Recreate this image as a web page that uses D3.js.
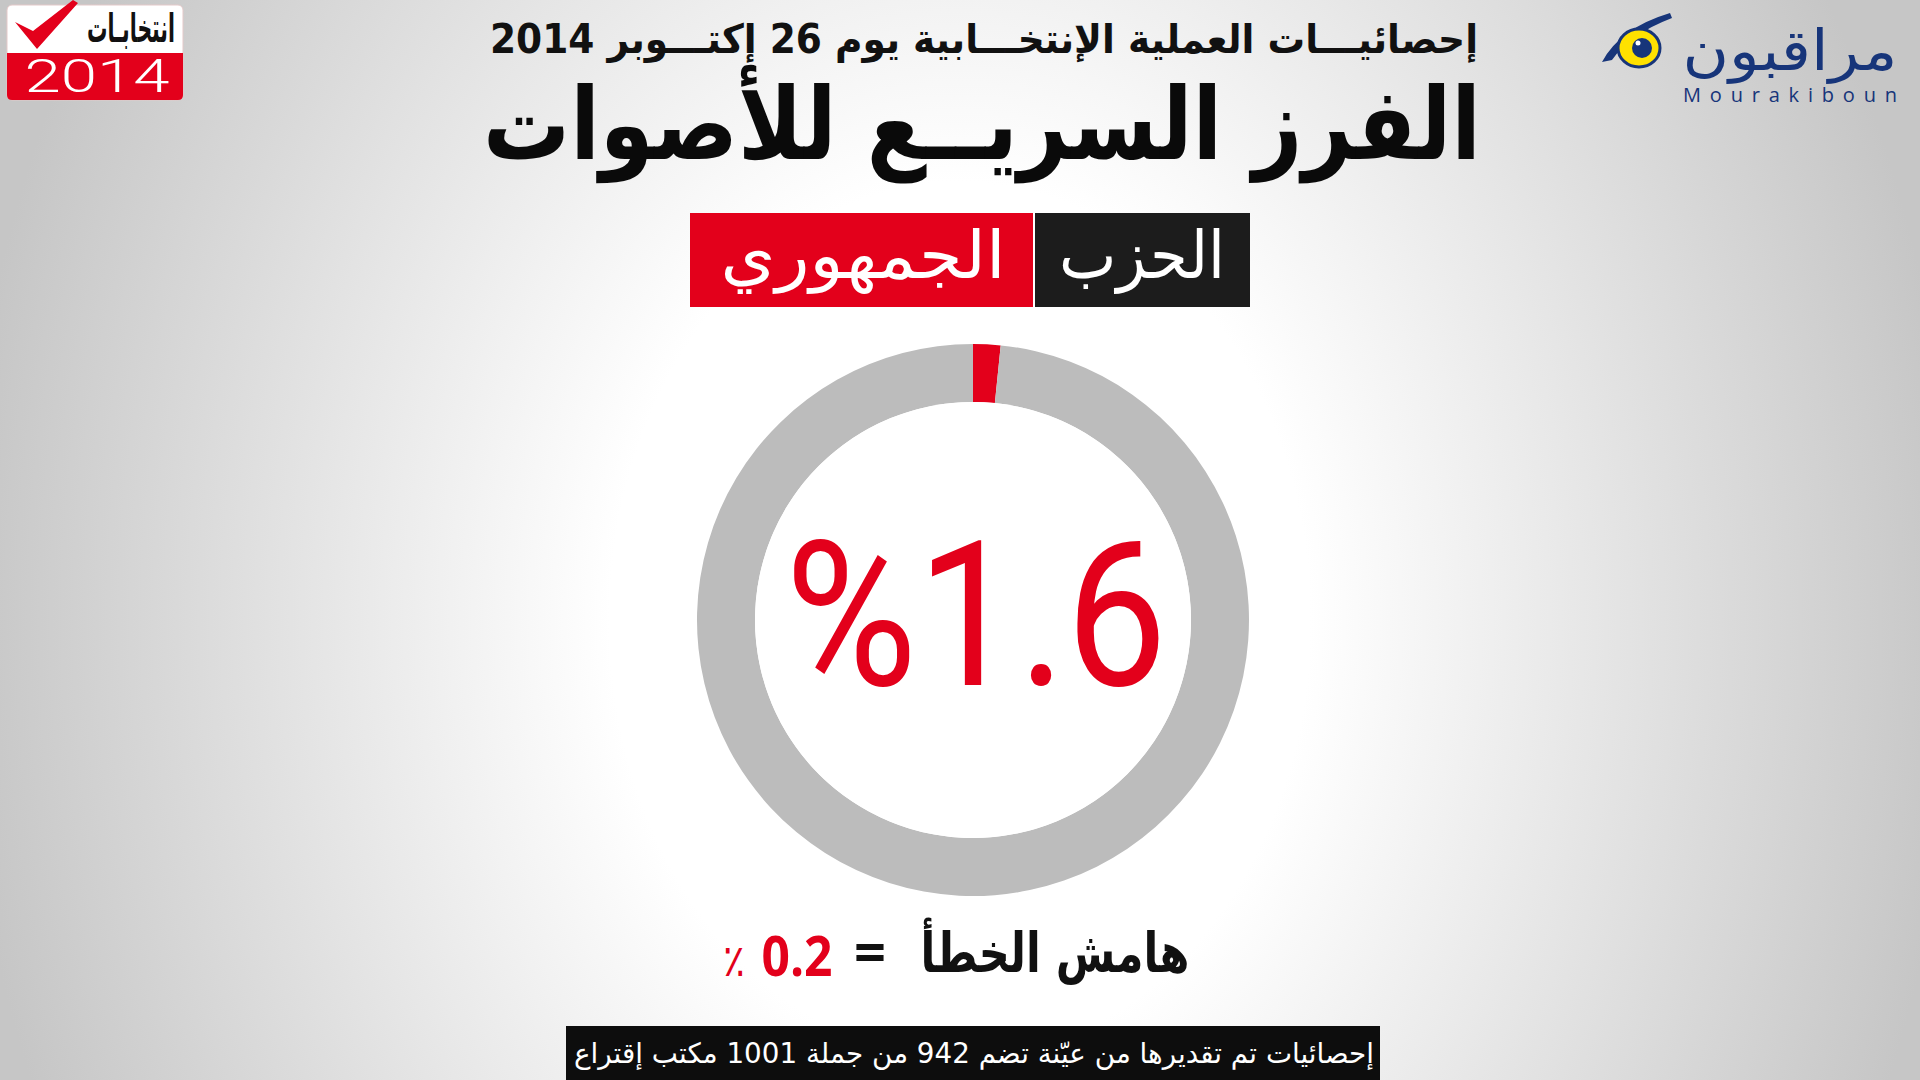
<!DOCTYPE html>
<html lang="ar">
<head>
<meta charset="utf-8">
<title>الفرز السريع للأصوات</title>
<script src="https://cdn.jsdelivr.net/npm/d3@7"></script>
<style>
  html, body { margin: 0; padding: 0; background: #fff; }
  svg { display: block; }
</style>
</head>
<body>
<svg id="viz" width="1920" height="1080"></svg>
<script>
// data
const shareKeys = ["الحزب الجمهوري", "بقية الأصوات"]
const shareValues = [1.6, 98.4]
const partyWords = ["الحزب", "الجمهوري"]
const marginOfError = [0.2]
const sampleCounts = [942, 1001]
const subtitleText = "إحصائيـــات العملية الإنتخـــابية يوم 26 إكتـــوبر 2014"
const titleText = "الفرز السريــع للأصوات"
const marginLabel = "هامش الخطأ"

const RED = "#e3001b"
const GREY = "#bcbcbc"
const BLUE = "#17357a"
const ARABIC = "'DejaVu Sans', sans-serif"

const svg = d3.select("#viz")
const defs = svg.append("defs")

// background: white centre fading to grey at the sides
const bg = defs.append("radialGradient")
  .attr("id", "bg")
  .attr("gradientUnits", "userSpaceOnUse")
  .attr("cx", 960).attr("cy", 620).attr("r", 1000)
  .attr("gradientTransform", "translate(960,620) scale(1,1.25) translate(-960,-620)")
bg.append("stop").attr("offset", 0).attr("stop-color", "#ffffff")
bg.append("stop").attr("offset", 0.35).attr("stop-color", "#ffffff")
bg.append("stop").attr("offset", 1).attr("stop-color", "#c6c6c6")

svg.append("rect")
  .attr("width", 1920).attr("height", 1080)
  .attr("fill", "url(#bg)")

// helper for arabic text fitted to a width
const fitText = (g, { text, cx, y, width, size, weight = "bold", fill = "#111", family = ARABIC, dir = "rtl" }) => g.append("text")
  .attr("x", cx).attr("y", y)
  .attr("text-anchor", "middle")
  .attr("direction", dir)
  .attr("font-family", family)
  .attr("font-size", size)
  .attr("font-weight", weight)
  .attr("fill", fill)
  .attr("textLength", width)
  .attr("lengthAdjust", "spacingAndGlyphs")
  .text(text)

// header
const header = svg.append("g").attr("class", "header")
fitText(header, { text: subtitleText, cx: 984, y: 53, width: 988, size: 40 })
fitText(header, { text: titleText, cx: 982, y: 159, width: 998, size: 100, fill: "#0a0a0a" })

// party name boxes
const party = svg.append("g").attr("class", "party")
const partyBoxes = [
  { word: partyWords[0], x0: 1035, x1: 1250, fill: "#1c1c1c" },
  { word: partyWords[1], x0: 690, x1: 1033, fill: "#e3001b" }
]
party.selectAll("rect")
  .data(partyBoxes)
  .join("rect")
    .attr("x", d => d.x0)
    .attr("y", 213)
    .attr("width", d => d.x1 - d.x0)
    .attr("height", 94)
    .attr("fill", d => d.fill)
fitText(party, { text: partyWords[0], cx: 1142, y: 278, width: 166, size: 66, weight: "normal", fill: "#fff" })
fitText(party, { text: partyWords[1], cx: 863, y: 278, width: 285, size: 66, weight: "normal", fill: "#fff" })

// donut
const cx = 973, cy = 620
const color = d3.scaleOrdinal().domain(shareKeys).range([RED, GREY])
const pie = d3.pie().sort(null).value(d => d.value)
const arc = d3.arc().innerRadius(218).outerRadius(276)

const donut = svg.append("g")
  .attr("class", "donut")
  .attr("transform", `translate(${cx},${cy})`)

donut.selectAll("path")
  .data(pie(shareKeys.map((k, i) => ({ key: k, value: shareValues[i] }))))
  .join("path")
    .attr("d", arc)
    .attr("fill", d => color(d.data.key))

donut.append("circle")
  .attr("r", 218)
  .attr("fill", "#fff")

donut.append("text")
  .attr("x", -188)
  .attr("y", 65)
  .attr("direction", "ltr")
  .attr("font-family", "Roboto, 'Liberation Sans', sans-serif")
  .attr("font-weight", 400)
  .attr("font-size", 203)
  .attr("fill", RED)
  .attr("textLength", 382)
  .attr("lengthAdjust", "spacingAndGlyphs")
  .text(`%${d3.format(".1f")(shareValues[0])}`)

// margin of error line
const moe = svg.append("g").attr("class", "moe")
fitText(moe, { text: marginLabel, cx: 1055, y: 972, width: 269, size: 55 })
moe.append("text")
  .attr("x", 870).attr("y", 972)
  .attr("text-anchor", "middle")
  .attr("font-family", "'Open Sans', sans-serif")
  .attr("font-weight", "bold")
  .attr("font-size", 56)
  .attr("fill", "#111")
  .text("=")
fitText(moe, { text: d3.format(".1f")(marginOfError[0]), cx: 797, y: 976, width: 71, size: 56, fill: RED, family: "'Open Sans', sans-serif", dir: "ltr" })
fitText(moe, { text: "٪", cx: 734, y: 976, width: 22, size: 44, weight: "normal", fill: RED })

// footer note
svg.append("rect")
  .attr("x", 566).attr("y", 1026)
  .attr("width", 814).attr("height", 54)
  .attr("fill", "#0d0d0d")
fitText(svg, {
  text: `إحصائيات تم تقديرها من عيّنة تضم ${sampleCounts[0]} من جملة ${sampleCounts[1]} مكتب إقتراع`,
  cx: 974, y: 1063, width: 800, size: 28, weight: "normal", fill: "#fff"
})

// left logo
const logoL = svg.append("g").attr("class", "logo-left")
logoL.append("rect")
  .attr("x", 7).attr("y", 5).attr("width", 176).attr("height", 95)
  .attr("rx", 5)
  .attr("fill", "#fff")
  .attr("stroke", "#e4c9c9").attr("stroke-width", 1)
logoL.append("path")
  .attr("d", "M7,53 H183 V95 Q183,100 178,100 H12 Q7,100 7,95 Z")
  .attr("fill", RED)
fitText(logoL, { text: "انتخابـات", cx: 131, y: 42, width: 88, size: 40, fill: "#111" })
logoL.append("path")
  .attr("d", "M15,22 L33,31 L73,0 L78,3 L37,49 Z")
  .attr("fill", RED)
logoL.append("text")
  .attr("x", 97).attr("y", 92)
  .attr("text-anchor", "middle")
  .attr("font-family", "Roboto, 'Liberation Sans', sans-serif")
  .attr("font-weight", 300)
  .attr("font-size", 47)
  .attr("fill", "#fff")
  .attr("textLength", 145)
  .attr("lengthAdjust", "spacingAndGlyphs")
  .text("2014")

// right logo
const logoR = svg.append("g").attr("class", "logo-right")
logoR.append("path")
  .attr("d", "M1602,62 Q1620,28 1670,13 L1672,18 Q1630,34 1612,60 Z")
  .attr("fill", BLUE)
logoR.append("ellipse")
  .attr("cx", 1639).attr("cy", 48).attr("rx", 21).attr("ry", 19)
  .attr("fill", "#ffe100")
  .attr("stroke", BLUE).attr("stroke-width", 3)
logoR.append("circle")
  .attr("cx", 1642).attr("cy", 48).attr("r", 10)
  .attr("fill", BLUE)
logoR.append("circle")
  .attr("cx", 1638).attr("cy", 43).attr("r", 2.5)
  .attr("fill", "#fff")
fitText(logoR, { text: "مراقبون", cx: 1790, y: 70, width: 215, size: 56, weight: "normal", fill: BLUE })
logoR.append("text")
  .attr("x", 1683).attr("y", 102)
  .attr("font-family", "'Open Sans', sans-serif")
  .attr("font-size", 20)
  .attr("fill", BLUE)
  .attr("textLength", 214)
  .attr("lengthAdjust", "spacing")
  .text("Mourakiboun")
</script>
</body>
</html>
